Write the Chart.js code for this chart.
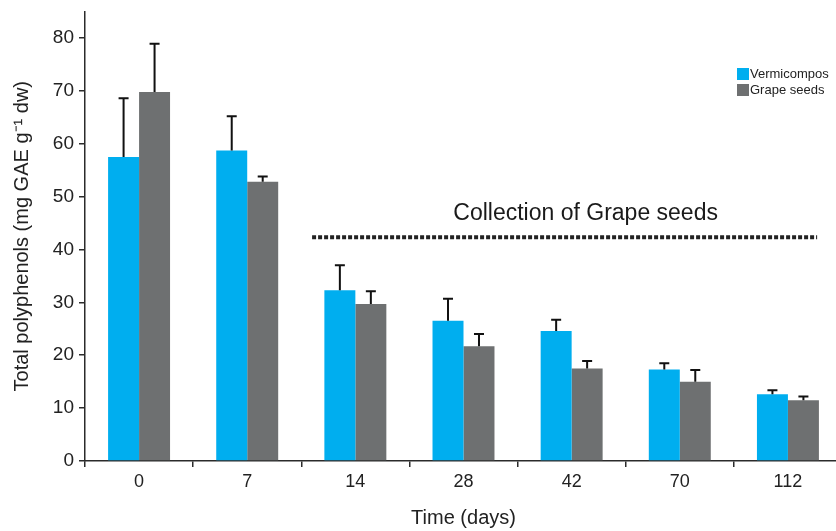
<!DOCTYPE html>
<html>
<head>
<meta charset="utf-8">
<script src="https://cdn.jsdelivr.net/npm/chart.js@4/dist/chart.umd.min.js"></script>
<style>
html,body{margin:0;padding:0;background:#fff;overflow:hidden;width:836px;height:531px;}
#wrap{width:842px;height:531px;}
</style>
</head>
<body>
<div id="wrap"><canvas id="c" width="842" height="531"></canvas></div>
<script>
const categories = ['0', '7', '14', '28', '42', '70', '112'];
const vermicompos = [57.5, 58.7, 32.3, 26.5, 24.6, 17.3, 12.6];
const vermicomposErr = [11.1, 6.5, 4.7, 4.2, 2.1, 1.2, 0.8];
const grapeSeeds = [69.8, 52.8, 29.7, 21.7, 17.5, 15.0, 11.5];
const grapeSeedsErr = [9.1, 1.0, 2.4, 2.3, 1.4, 2.2, 0.7];
const yTicks = [0, 10, 20, 30, 40, 50, 60, 70, 80];
const collection = { label: 'Collection of Grape seeds', value: 42.3, fromIndex: 1.6, toIndex: 6.27 };

const BLUE = '#00AEEF';
const GRAY = '#6E7071';
const AXIS = '#2b2b2b';

const errorBars = {
  id: 'errorBars',
  afterDatasetsDraw(chart) {
    const ctx = chart.ctx;
    const y = chart.scales.y;
    chart.data.datasets.forEach((ds, di) => {
      const meta = chart.getDatasetMeta(di);
      meta.data.forEach((bar, i) => {
        const v = ds.data[i], e = ds.errors[i];
        const yTop = y.getPixelForValue(v + e);
        const yBase = y.getPixelForValue(v);
        ctx.save();
        ctx.strokeStyle = '#111';
        ctx.lineWidth = 2;
        ctx.beginPath();
        ctx.moveTo(bar.x, yBase);
        ctx.lineTo(bar.x, yTop);
        ctx.moveTo(bar.x - 5, yTop);
        ctx.lineTo(bar.x + 5, yTop);
        ctx.stroke();
        ctx.restore();
      });
    });
  }
};

const collectionMark = {
  id: 'collectionMark',
  afterDatasetsDraw(chart) {
    const ctx = chart.ctx;
    const x = chart.scales.x, y = chart.scales.y;
    const x0 = x.getPixelForValue(collection.fromIndex);
    const x1 = x.getPixelForValue(collection.toIndex);
    const py = y.getPixelForValue(collection.value);
    ctx.save();
    ctx.strokeStyle = '#222';
    ctx.lineWidth = 4;
    ctx.setLineDash([4, 2]);
    ctx.beginPath();
    ctx.moveTo(x0, py);
    ctx.lineTo(x1, py);
    ctx.stroke();
    ctx.setLineDash([]);
    ctx.fillStyle = '#1a1a1a';
    ctx.font = '23px "Liberation Sans", Arial, sans-serif';
    ctx.textAlign = 'center';
    ctx.textBaseline = 'middle';
    ctx.fillText(collection.label, (x0 + x1) / 2 + 21, py - 24);
    ctx.restore();
  }
};

const customLegend = {
  id: 'customLegend',
  afterDraw(chart) {
    const ctx = chart.ctx;
    ctx.save();
    ctx.font = '13px "Liberation Sans", Arial, sans-serif';
    ctx.textBaseline = 'middle';
    ctx.textAlign = 'left';
    chart.data.datasets.forEach((ds, i) => {
      const top = 68 + i * 16;
      ctx.fillStyle = ds.backgroundColor;
      ctx.fillRect(737, top, 12, 12);
      ctx.fillStyle = '#222';
      ctx.fillText(ds.label, 750, top + 6.5);
    });
    ctx.restore();
  }
};

new Chart(document.getElementById('c'), {
  type: 'bar',
  data: {
    labels: categories,
    datasets: [
      { label: 'Vermicompos', data: vermicompos, errors: vermicomposErr, backgroundColor: BLUE, borderWidth: 0 },
      { label: 'Grape seeds', data: grapeSeeds, errors: grapeSeedsErr, backgroundColor: GRAY, borderWidth: 0 }
    ]
  },
  options: {
    responsive: false,
    animation: false,
    layout: { padding: { top: 11.5, right: 0, left: 0, bottom: 0 } },
    plugins: { legend: { display: false }, tooltip: { enabled: false } },
    datasets: { bar: { barPercentage: 1.0, categoryPercentage: 0.573 } },
    scales: {
      x: {
        grid: { display: true, drawOnChartArea: false, drawTicks: true, tickLength: 6, color: AXIS, lineWidth: 1.5, offset: true },
        border: { display: true, color: AXIS, width: 1.5 },
        ticks: { color: '#222', font: { family: '"Liberation Sans Narrow", "Liberation Sans", Arial, sans-serif', size: 18 }, padding: 4, maxRotation: 0 },
        title: { display: true, text: 'Time (days)', color: '#222', font: { family: '"Liberation Sans", Arial, sans-serif', size: 20 }, padding: { top: 0, bottom: 1 } },
        afterFit(s) { s.height = 70; s.paddingLeft = 0; s.paddingRight = 0; }
      },
      y: {
        min: 0, max: 85,
        afterBuildTicks(s) { s.ticks = yTicks.map(v => ({ value: v })); },
        grid: { display: true, drawOnChartArea: false, drawTicks: true, tickLength: 6, color: AXIS, lineWidth: 1.5 },
        border: { display: true, color: AXIS, width: 1.5 },
        ticks: { color: '#222', font: { family: '"Liberation Sans", Arial, sans-serif', size: 19 }, padding: 5 },
        title: { display: true, text: 'Total polyphenols (mg GAE g\u207B\u00B9 dw)', color: '#222', font: { family: '"Liberation Sans", Arial, sans-serif', size: 20 }, padding: { top: 10, bottom: 0 } },
        afterFit(s) { s.width = 85; s.paddingTop = 0; s.paddingBottom = 0; }
      }
    }
  },
  plugins: [errorBars, collectionMark, customLegend]
});
</script>
</body>
</html>
